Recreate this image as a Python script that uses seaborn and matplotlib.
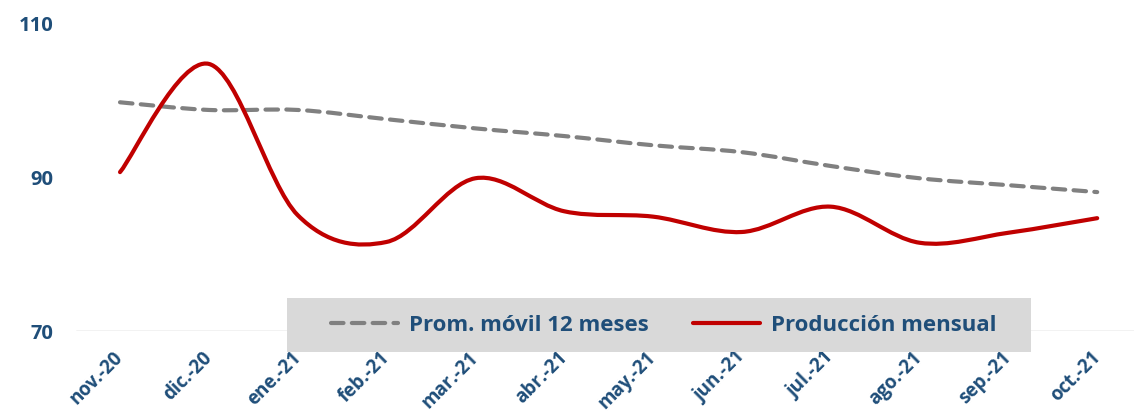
import numpy as np
import matplotlib
matplotlib.use("Agg")
import matplotlib.pyplot as plt
import seaborn as sns
from matplotlib.path import Path
from matplotlib.patches import PathPatch, Rectangle
from matplotlib.lines import Line2D

meses = ["nov.-20", "dic.-20", "ene.-21", "feb.-21", "mar.-21", "abr.-21",
         "may.-21", "jun.-21", "jul.-21", "ago.-21", "sep.-21", "oct.-21"]
produccion = [90.7, 104.8, 85.1, 81.6, 89.9, 85.6, 84.9, 82.9, 86.2, 81.5, 82.8, 84.7]
promedio = [99.8, 98.8, 98.8, 97.6, 96.4, 95.4, 94.2, 93.3, 91.5, 89.9, 89.0, 88.1]

AZUL = "#1F4E79"
ROJO = "#C00000"
GRIS = "#808080"
GUION = (0, (3.0, 2.0))


def curva_suave(xs, ys):
    # bezier tipo Excel (Catmull-Rom) que pasa por cada punto
    pts = np.column_stack([xs, ys]).astype(float)
    n = len(pts)
    verts = [pts[0]]
    codes = [Path.MOVETO]
    for i in range(n - 1):
        p0 = pts[max(i - 1, 0)]
        p1 = pts[i]
        p2 = pts[i + 1]
        p3 = pts[min(i + 2, n - 1)]
        verts += [p1 + (p2 - p0) / 6, p2 - (p3 - p1) / 6, p2]
        codes += [Path.CURVE4] * 3
    return Path(verts, codes)


sns.set_style("white")
plt.rcParams["font.family"] = ["Open Sans", "DejaVu Sans"]

W, H = 1134, 415
fig = plt.figure(figsize=(W / 100, H / 100), dpi=100)
ax = fig.add_axes([75.6 / W, 84 / H, 1066 / W, 307 / H])

x = np.arange(len(meses))
ax.add_patch(PathPatch(curva_suave(x, promedio), fill=False, edgecolor=GRIS,
                       lw=3, linestyle=GUION, capstyle="round", zorder=3))
ax.add_patch(PathPatch(curva_suave(x, produccion), fill=False, edgecolor=ROJO,
                       lw=3, capstyle="round", zorder=4))

ax.set_xlim(-0.5, 11.5)
ax.set_ylim(70, 110)
ax.set_yticks([70, 90, 110])
ax.axhline(70, color="#BFBFBF", lw=1, zorder=1)
ax.set_xticks(x)
ax.set_xticklabels(meses, rotation=45, ha="right", va="center", rotation_mode="anchor")
ax.tick_params(axis="x", length=0, pad=17)
ax.tick_params(axis="y", length=0, pad=16)
for lab in ax.get_xticklabels():
    lab.set_color(AZUL)
    lab.set_fontweight("bold")
    lab.set_fontsize(13.5)
for lab in ax.get_yticklabels():
    lab.set_color(AZUL)
    lab.set_fontweight("bold")
    lab.set_fontsize(14.5)
ax.grid(False)
sns.despine(ax=ax, left=True, bottom=True)

# caja gris de la leyenda
fig.patches.append(Rectangle((287 / W, 63 / H), 744 / W, 54 / H,
                             transform=fig.transFigure, facecolor="#D9D9D9",
                             edgecolor="none", zorder=5))
handles = [Line2D([], [], color=GRIS, lw=3, linestyle=GUION, dash_capstyle="round"),
           Line2D([], [], color=ROJO, lw=3, solid_capstyle="round")]
leg = fig.legend(handles, ["Prom. móvil 12 meses", "Producción mensual"],
                 loc="center", bbox_to_anchor=(664 / W, 90 / H), ncol=2,
                 frameon=False, handlelength=3.0, handletextpad=0.5,
                 columnspacing=2.0, prop={"weight": "bold", "size": 16})
leg.set_zorder(6)
for t in leg.get_texts():
    t.set_color(AZUL)

fig.savefig("out.png", dpi=100)
